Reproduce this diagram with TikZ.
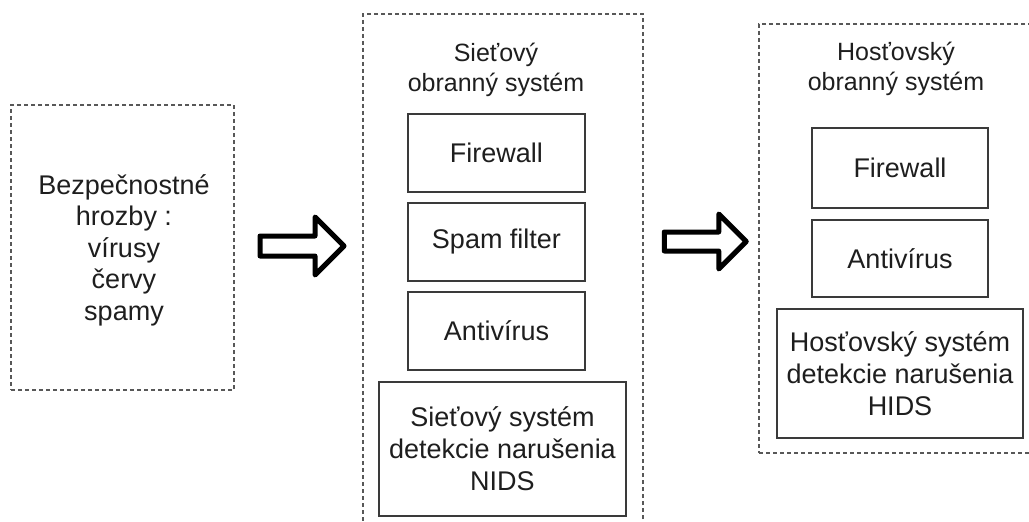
\documentclass[tikz,border=0pt]{standalone}
\usepackage{fontspec}
\setmainfont{Liberation Sans}
\usetikzlibrary{shapes.arrows}
\definecolor{edge}{HTML}{3A3A3A}
\definecolor{ink}{HTML}{1E1E1E}
\tikzset{
  container/.style={draw=edge!85, line width=1.4pt, dash pattern=on 4pt off 3pt, minimum width=#1, inner sep=0pt},
  itembox/.style={draw=edge, line width=1.4pt, inner sep=0pt, align=center, text=ink,
     font=\fontsize{27}{32}\selectfont},
  titletext/.style={align=center, text=ink, font=\fontsize{25}{30}\selectfont, inner sep=0pt},
  bigarrow/.style={single arrow, draw=black, line width=5pt, line join=round, inner xsep=0pt,
     single arrow head indent=0pt, fill=white}
}
\begin{document}
\begin{tikzpicture}[x=1pt,y=-1pt]
\useasboundingbox (0,0) rectangle (1029,522);
% containers
\node[container=223pt, minimum height=285pt] (threats) at (122.5,247.5) {};
\node[container=280pt, minimum height=526pt] (net) at (503,277) {};
\node[container=286pt, minimum height=429pt] (host) at (902,238.5) {};
% threats text
\node[align=center, text=ink, font=\fontsize{27}{31.5}\selectfont, inner sep=0pt] (threatstext) at (124,250)
  {Bezpečnostné\\hrozby :\\vírusy\\červy\\spamy};
% network column
\node[titletext] (nettitle) at (496,70) {Sieťový\\obranný systém};
\node[itembox, minimum width=177pt, minimum height=78pt] (fw1) at (496.5,153) {Firewall};
\node[itembox, minimum width=177pt, minimum height=78pt] (spam) at (496.5,242) {Spam filter};
\node[itembox, minimum width=177pt, minimum height=78pt] (av1) at (496.5,331) {Antivírus};
\node[itembox, minimum width=247pt, minimum height=134pt] (nids) at (502.5,449)
  {Sieťový systém\\detekcie narušenia\\NIDS};
% host column
\node[titletext] (hosttitle) at (896,69) {Hosťovský\\obranný systém};
\node[itembox, minimum width=176pt, minimum height=80pt] (fw2) at (900,168) {Firewall};
\node[itembox, minimum width=176pt, minimum height=77pt] (av2) at (900,258.5) {Antivírus};
\node[itembox, minimum width=246pt, minimum height=129pt] (hids) at (900,373.5)
  {Hosťovský systém\\detekcie narušenia\\HIDS};
% block arrows
\node[bigarrow, inner ysep=7.5pt, single arrow head extend=19pt, minimum height=84pt] (arrow1) at (297,246) {};
\node[bigarrow, inner ysep=7pt, single arrow head extend=18pt, minimum height=82pt] (arrow2) at (700.5,241.5) {};
\end{tikzpicture}
\end{document}
